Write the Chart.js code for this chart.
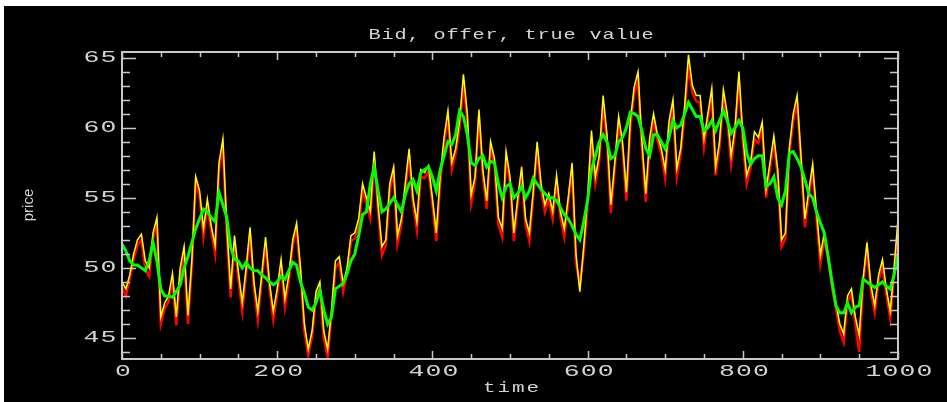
<!DOCTYPE html>
<html>
<head>
<meta charset="utf-8">
<script src="https://cdn.jsdelivr.net/npm/chart.js@4.4.1/dist/chart.umd.min.js"></script>
<style>
  html, body { margin: 0; padding: 0; background: #fff; }
</style>
</head>
<body>
<canvas id="myChart" width="947" height="402"></canvas>
<script>
const ctx = document.getElementById("myChart")

// samples every 5 time units, t = 0 .. 1000
const step = 5

const offer = [
  49.0, 48.5, 49.5, 51.0, 52.0, 52.4, 50.5, 50.0, 52.5, 53.6, 46.5,
  47.5, 48.0, 49.6, 46.5, 50.0, 51.5, 46.6, 50.5, 56.5, 55.5,
  52.8, 54.9, 53.0, 51.6, 57.5, 59.2, 53.0, 48.5, 52.3, 49.7,
  47.5, 50.0, 52.9, 49.0, 46.9, 49.5, 52.2, 49.0, 46.9, 48.5,
  50.6, 47.8, 49.5, 52.0, 53.2, 50.0, 46.0, 44.2, 45.5, 48.3,
  49.0, 45.5, 44.2, 47.0, 50.5, 50.8, 48.9, 50.0, 52.3, 52.5,
  53.5, 56.0, 55.0, 54.0, 58.3, 54.5, 51.5, 52.0, 56.0, 57.2,
  52.3, 53.5, 56.0, 58.5, 55.0, 53.3, 57.0, 56.8, 57.3, 55.0,
  52.5, 56.5, 59.3, 61.2, 57.5, 58.5, 60.5, 63.8, 61.0, 55.2,
  56.5, 61.3, 57.0, 54.8, 59.0, 57.8, 53.6, 52.8, 58.3, 56.5,
  52.5, 55.0, 57.2, 53.5, 52.5, 55.5, 59.0, 56.0, 54.5, 55.3,
  54.0, 56.6, 54.0, 52.8, 55.0, 57.5, 51.0, 48.3, 51.5, 55.0,
  59.8, 56.5, 58.0, 62.3, 59.5, 54.5, 57.5, 60.8, 59.0, 55.4,
  60.5, 62.9, 64.0, 59.0, 55.3, 59.3, 61.0, 59.5, 58.5, 57.0,
  60.5, 62.0, 57.1, 58.5, 61.5, 65.2, 63.0, 62.3, 62.3, 59.2,
  61.0, 62.8, 57.2, 59.0, 62.7, 61.0, 58.0, 60.0, 64.0, 59.5,
  56.6, 57.5, 59.7, 59.3, 60.4, 55.6, 57.5, 59.4, 57.0, 52.0,
  52.5, 58.6, 61.0, 62.3, 58.0, 53.5, 55.5, 57.4, 54.0, 50.9,
  52.5, 51.0, 49.0, 47.5, 46.0, 45.3, 48.0, 48.5, 46.5, 45.2,
  49.2, 51.8, 48.8, 47.3, 49.5, 50.6, 48.5, 46.9, 50.0, 53.5
]

const bid = [
  48.6, 48.0, 49.2, 50.6, 51.6, 52.0, 49.9, 49.4, 52.1, 53.1, 46.0,
  47.1, 47.6, 49.2, 45.9, 49.6, 51.1, 46.0, 50.1, 56.0, 55.1,
  52.2, 54.4, 52.6, 51.0, 57.0, 58.6, 52.6, 47.9, 51.9, 49.2,
  46.9, 49.6, 52.4, 48.6, 46.3, 49.1, 51.7, 48.6, 46.3, 48.1,
  50.1, 47.2, 49.1, 51.6, 52.7, 49.6, 45.5, 43.8, 45.1, 47.9,
  48.6, 45.0, 43.6, 46.6, 50.0, 50.4, 48.3, 49.6, 51.9, 52.1,
  53.0, 55.5, 54.6, 53.5, 57.8, 54.1, 50.9, 51.6, 55.5, 56.8,
  51.7, 53.1, 55.5, 58.0, 54.6, 52.7, 56.5, 56.4, 56.9, 54.6,
  51.9, 56.0, 58.8, 60.7, 57.0, 58.1, 60.0, 63.1, 60.5, 54.6,
  56.1, 60.8, 56.6, 54.2, 58.5, 57.4, 53.1, 52.2, 57.8, 56.1,
  51.9, 54.6, 56.6, 53.1, 51.9, 55.1, 58.5, 55.6, 54.0, 54.9,
  53.5, 56.1, 53.6, 52.2, 54.6, 57.0, 50.4, 48.8, 51.1, 54.5,
  59.3, 56.0, 57.6, 61.6, 59.0, 53.9, 57.1, 60.3, 58.6, 54.8,
  60.0, 62.4, 63.4, 58.6, 54.7, 58.8, 60.5, 59.1, 58.1, 56.4,
  60.0, 61.5, 56.5, 58.1, 61.0, 64.4, 62.5, 61.9, 61.8, 58.6,
  60.6, 62.2, 56.6, 58.6, 62.2, 60.6, 57.4, 59.6, 63.4, 59.1,
  56.0, 57.1, 59.2, 58.9, 59.9, 55.0, 57.1, 58.9, 56.6, 51.5,
  52.1, 58.1, 60.5, 61.7, 57.6, 52.9, 55.1, 56.9, 53.6, 50.3,
  52.1, 50.6, 48.6, 47.1, 45.5, 44.7, 47.6, 48.1, 46.0, 44.0,
  48.8, 51.3, 48.4, 46.8, 49.1, 50.1, 48.1, 46.4, 49.6, 53.0
]

const trueValue = [
  51.7, 51.2, 50.5, 50.2, 50.2, 50.0, 49.8, 50.5, 51.8, 50.5, 48.5,
  48.0, 48.0, 47.9, 48.3, 48.8, 50.0, 50.8, 51.8, 52.8, 53.5,
  54.2, 54.0, 53.6, 53.3, 55.4, 54.5, 53.6, 51.5, 50.6, 50.5,
  50.0, 50.4, 50.0, 49.8, 49.8, 49.5, 49.3, 49.0, 48.8, 49.0,
  49.4, 49.2, 49.8, 50.4, 50.2, 49.0, 48.2, 47.2, 47.0, 47.5,
  48.4, 47.0, 46.0, 46.5, 48.5, 48.7, 48.9, 49.6, 50.5, 51.0,
  52.3, 53.8, 54.0, 56.0, 57.2, 55.5, 54.0, 54.2, 54.6, 55.0,
  54.5, 54.0, 55.2, 56.0, 56.3, 55.5, 56.8, 57.0, 57.2, 56.5,
  55.5, 57.0, 58.0, 59.0, 58.8, 59.5, 61.2, 60.8, 59.5, 57.5,
  57.3, 57.8, 58.0, 57.2, 57.6, 57.5, 56.0, 55.0, 55.8, 56.0,
  55.0, 55.3, 55.8, 55.0, 55.5, 56.4, 56.0, 55.6, 55.3, 55.0,
  55.0, 54.8, 54.3, 53.8, 53.5, 53.0, 52.4, 52.0, 53.3, 54.8,
  57.0, 58.0, 59.0, 59.5, 59.0, 57.8, 58.0, 59.0, 59.3, 60.0,
  61.1, 61.0, 60.8, 59.8, 58.5, 58.0, 59.5, 59.5, 59.0, 58.5,
  59.3, 60.5, 60.0, 60.2, 61.0, 61.8, 61.3, 60.8, 60.8, 59.8,
  60.0, 60.5, 59.8, 60.5, 61.2, 60.5, 59.6, 60.0, 60.5, 60.0,
  58.2, 57.4, 57.8, 58.0, 58.0, 55.8, 56.0, 56.5, 55.0, 54.5,
  55.5, 58.2, 58.3, 57.8, 57.2, 56.3, 55.3, 55.0, 54.0, 53.2,
  52.5, 50.8, 49.0, 47.3, 46.8, 46.8, 47.5, 46.8, 47.2, 47.3,
  49.2, 49.0, 48.8, 48.6, 48.8, 49.0, 48.7, 48.5, 49.5, 50.9
]

const xTicks = [0, 200, 400, 600, 800, 1000]
const yTicks = [45, 50, 55, 60, 65]
const xMinorStep = 50
const yMinorStep = 1

const times = trueValue.map((v, i) => i * step)
const toPoints = (arr) => arr.map((v, i) => ({ x: times[i], y: v }))

const textColor = "#d4d4d4"
const frameColor = "#c8c8c8"

// hershey-like text: every glyph placed on a fixed advance and stretched sideways
function wideText(c, str, x, y, size, sx, adv, align) {
  const w = str.length * adv
  let x0 = x
  if (align === "center") x0 = x - w / 2
  else if (align === "right") x0 = x - w
  c.save()
  c.font = size + "px 'Liberation Mono'"
  c.textAlign = "center"
  c.textBaseline = "middle"
  c.fillStyle = textColor
  for (let i = 0; i < str.length; i++) {
    c.save()
    c.translate(x0 + adv * (i + 0.5), y)
    c.scale(sx, 1)
    c.fillText(str[i], 0, 0)
    c.restore()
  }
  c.restore()
}

const background = {
  id: "background",
  beforeDraw(chart) {
    const c = chart.ctx
    c.save()
    c.fillStyle = "#fff"
    c.fillRect(0, 0, chart.width, chart.height)
    c.fillStyle = "#000"
    c.fillRect(4, 6, chart.width - 4, chart.height - 6)
    c.restore()
  }
}

const idlAxes = {
  id: "idlAxes",
  afterDraw(chart) {
    const c = chart.ctx
    const a = chart.chartArea
    const xs = chart.scales.x
    const ys = chart.scales.y
    c.save()
    c.strokeStyle = frameColor
    c.lineWidth = 2
    c.strokeRect(a.left, a.top, a.right - a.left, a.bottom - a.top)

    c.lineWidth = 1.5
    c.beginPath()
    for (let t = xs.min; t <= xs.max; t += xMinorStep) {
      const px = Math.round(xs.getPixelForValue(t)) + 0.5
      const len = xTicks.includes(t) ? 8 : 5
      c.moveTo(px, a.bottom); c.lineTo(px, a.bottom - len)
      c.moveTo(px, a.top); c.lineTo(px, a.top + len)
    }
    for (let v = Math.ceil(ys.min); v <= ys.max; v += yMinorStep) {
      const py = Math.round(ys.getPixelForValue(v)) + 0.5
      const len = yTicks.includes(v) ? 14 : 8
      c.moveTo(a.left, py); c.lineTo(a.left + len, py)
      c.moveTo(a.right, py); c.lineTo(a.right - len, py)
    }
    c.stroke()

    xTicks.forEach(t => {
      wideText(c, String(t), xs.getPixelForValue(t) + 1, 372, 16, 1.65, 17, "center")
    })
    yTicks.forEach(v => {
      wideText(c, String(v), 117, ys.getPixelForValue(v), 16, 1.65, 17, "right")
    })

    wideText(c, "Bid, offer, true value", 511, 35, 15, 1.35, 13, "center")
    wideText(c, "time", 511, 388, 15, 1.4, 14.5, "center")

    c.translate(29, 205)
    c.rotate(-Math.PI / 2)
    c.font = "15px 'Liberation Sans'"
    c.fillStyle = textColor
    c.textAlign = "center"
    c.textBaseline = "middle"
    c.fillText("price", 0, 0)
    c.restore()
  }
}

const chart = new Chart(ctx, {
  type: "line",
  data: {
    datasets: [
      {
        label: "true value",
        data: toPoints(trueValue),
        borderColor: "#00ff00",
        borderWidth: 3
      },
      {
        label: "offer",
        data: toPoints(offer),
        borderColor: "#ffff00",
        borderWidth: 1.5
      },
      {
        label: "bid",
        data: toPoints(bid),
        borderColor: "#ff0000",
        borderWidth: 2.5
      }
    ]
  },
  options: {
    responsive: false,
    animation: false,
    events: [],
    layout: {
      padding: { left: 122, right: 49, top: 52, bottom: 43 }
    },
    elements: {
      point: { radius: 0 },
      line: { tension: 0 }
    },
    scales: {
      x: { type: "linear", min: 0, max: 1000, display: false },
      y: { type: "linear", min: 43.5, max: 65.4, display: false }
    },
    plugins: {
      legend: { display: false },
      tooltip: { enabled: false }
    }
  },
  plugins: [background, idlAxes]
})
</script>
</body>
</html>
